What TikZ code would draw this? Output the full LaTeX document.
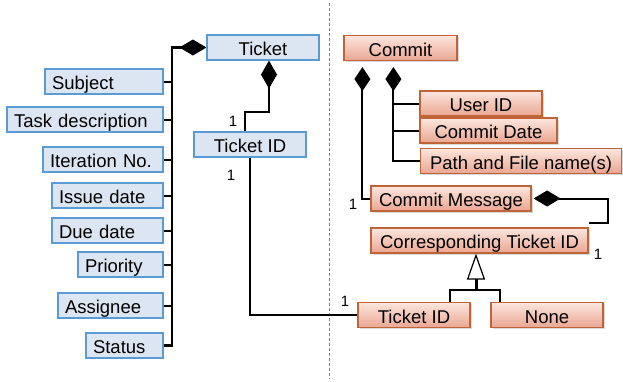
\documentclass[tikz,border=0pt]{standalone}
\definecolor{tktfill}{RGB}{220,230,242}
\definecolor{tktline}{RGB}{91,155,213}
\definecolor{cmttop}{RGB}{252,230,222}
\definecolor{cmtbot}{RGB}{234,166,146}
\definecolor{cmtline}{RGB}{190,100,55}
\usepackage{fontspec}
\setmainfont{Liberation Sans}
\usepackage{tikz}
\usetikzlibrary{arrows.meta, positioning, calc, shadows}

\tikzset{
  tktbox/.style={draw=tktline, fill=tktfill, line width=1.2pt, inner xsep=7pt, inner ysep=0pt,
    minimum height=25pt, text height=20.5pt, text depth=4.5pt, font=\fontsize{18.5}{20}\selectfont},
  attrbox/.style={tktbox, align=left},
  cmtbox/.style={draw=cmtline, line width=1.2pt, top color=cmttop, bottom color=cmtbot,
    inner xsep=4pt, inner ysep=0pt, minimum height=25pt, text height=20.5pt, text depth=4.5pt,
    font=\fontsize{18.5}{20}\selectfont,
    drop shadow={shadow xshift=1.5pt, shadow yshift=-1.5pt, opacity=0.3}},
  conn/.style={draw=black, line width=2pt},
  bus/.style={draw=black, line width=2.8pt},
  mult/.style={font=\fontsize{15}{16}\selectfont, inner sep=0pt},
  comp/.style={{Diamond[length=27pt, width=16pt]}-}
}

\begin{document}
\begin{tikzpicture}[x=1pt, y=-1pt]
  \useasboundingbox (0,0) rectangle (623,381);

  % ticket side
  \node[tktbox, minimum width=112pt] (ticket) at (263,47.5) {Ticket};
  \node[tktbox, minimum width=112pt] (ticketid) at (250,144.5) {Ticket ID};
  \node[attrbox, text width=104pt] (subject) at (104,81.5) {Subject};
  \node[attrbox, text width=142pt] (taskdesc) at (85,119.5) {Task description};
  \node[attrbox, text width=106pt] (iteration) at (103,159.5) {Iteration No.};
  \node[attrbox, text width=97pt] (issue) at (107.5,195.5) {Issue date};
  \node[attrbox, text width=97pt] (due) at (107.5,230.5) {Due date};
  \node[attrbox, text width=71pt] (priority) at (120.5,264.5) {Priority};
  \node[attrbox, text width=91pt] (assignee) at (110.5,305.5) {Assignee};
  \node[attrbox, text width=63pt] (status) at (124.5,345.5) {Status};

  \coordinate (bustop) at (172,47.5);
  \draw[bus, comp] (ticket.west) -- (bustop) |- (status.east);
  \foreach \n in {subject, taskdesc, iteration, issue, due, priority, assignee}
    \draw[conn] (\n.east) -- (\n.east -| bustop);

  \draw[conn, {Diamond[length=28pt, width=16pt]}-] ([xshift=6pt]ticket.south) -- ++(0,51)
    -| ([xshift=-5pt]ticketid.north);
  \node[mult] (m1) at (233,121) {1};
  \node[mult] (m2) at (231,175) {1};

  % separator
  \draw[gray, line width=0.8pt, dash pattern=on 3pt off 2pt] (329,3) -- (329,379);

  % commit side
  \node[cmtbox, minimum width=113pt] (commit) at (400.5,48) {Commit};
  \node[cmtbox, minimum width=122pt] (userid) at (481,103.5) {User ID};
  \node[cmtbox, minimum width=137pt] (cdate) at (488.5,130.5) {Commit Date};
  \node[cmtbox, minimum width=201pt] (path) at (521,161) {Path and File name(s)};
  \node[cmtbox, minimum width=160pt] (cmsg) at (451,198.5) {Commit Message};
  \node[cmtbox, minimum width=217pt] (ctid) at (479.5,240.5) {Corresponding Ticket ID};
  \node[cmtbox, minimum width=112pt] (rtid) at (414,315) {Ticket ID};
  \node[cmtbox, minimum width=112pt] (none) at (547,315) {None};

  \draw[conn, {Diamond[length=24pt, width=16pt]}-] ([xshift=19pt, yshift=-6pt]commit.south west)
    |- (cmsg.west);
  \draw[conn, {Diamond[length=24pt, width=16pt]}-] ([xshift=50pt, yshift=-6pt]commit.south west)
    coordinate (cbranch) |- (path.west);
  \draw[conn] (userid.west) -- (userid.west -| cbranch);
  \draw[conn] (cdate.west) -- (cdate.west -| cbranch);

  \draw[conn, comp] ([xshift=2pt]cmsg.east) -- ++(74,0) |- ([yshift=4pt]ctid.north east);
  \node[mult] (m3) at (353,204) {1};
  \node[mult] (m4) at (598,254) {1};

  \coordinate (gen) at (476,290);
  \draw[line width=3pt, -{Triangle[open, length=26pt, width=18pt, line width=1.2pt]}]
    (gen) -- ([xshift=-3.5pt]ctid.south);
  \draw[conn] ([xshift=36pt]rtid.north) |- (gen) -| ([xshift=10pt]none.north west);

  \draw[conn] (ticketid.south) |- (rtid.west);
  \node[mult] (m5) at (345,301) {1};
\end{tikzpicture}
\end{document}
